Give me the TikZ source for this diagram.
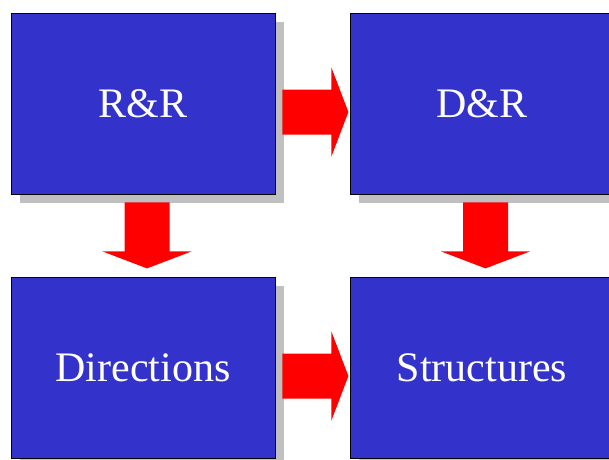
\documentclass[tikz,border=0pt]{standalone}
\usepackage{fontspec}
\setmainfont{Liberation Serif}
\usetikzlibrary{calc, shadows}

\definecolor{boxblue}{RGB}{51,51,204}
\definecolor{shadowgray}{RGB}{192,192,192}

\tikzset{
    stage/.style={draw=black, line width=0.8pt, fill=boxblue, text=white,
        minimum width=264pt, minimum height=181pt, inner sep=0pt,
        font=\fontsize{42}{50}\selectfont,
        drop shadow={shadow xshift=8.5pt, shadow yshift=-8.5pt, fill=shadowgray, opacity=1}},
    fatarrow/.pic={
        \fill[red] (0,22.5) -- (49,22.5) -- (49,44.5) -- (66,0)
            -- (49,-44.5) -- (49,-22.5) -- (0,-22.5) -- cycle;
    }
}

\begin{document}
\begin{tikzpicture}[x=1pt, y=1pt]
    \useasboundingbox (0,0) rectangle (609,-459);

    \node[stage] (rr)  at (143,-103.5) {R\&R};
    \node[stage] (dr)  at (482,-103.5) {D\&R};
    \node[stage] (dir) at (143,-367.5) {Directions};
    \node[stage] (str) at (482,-367.5) {Structures};

    % block arrows between the stages
    \pic at ($(rr.east)+(7,-8.5)$) {fatarrow};
    \pic at ($(dir.east)+(7,-8.5)$) {fatarrow};
    \pic[rotate=-90] at ($(rr.south)+(4,-8)$) {fatarrow};
    \pic[rotate=-90] at ($(dr.south)+(3.5,-8)$) {fatarrow};
\end{tikzpicture}
\end{document}
